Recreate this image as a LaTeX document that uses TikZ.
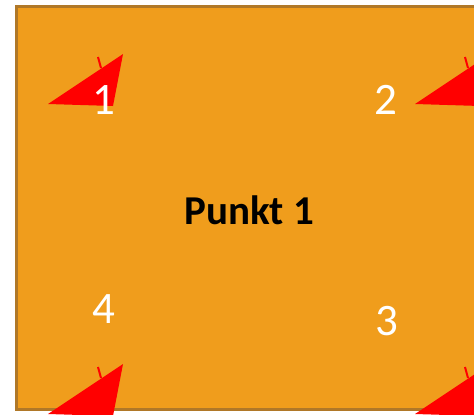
\documentclass[tikz,border=0pt]{standalone}
\usepackage{fontspec}
\setmainfont{Carlito}
\definecolor{boxfill}{RGB}{240,157,28}
\definecolor{boxedge}{RGB}{176,120,40}
\definecolor{arrred}{RGB}{255,0,0}
\tikzset{
  redtip/.style={fill=arrred, draw=none},
  redtick/.style={draw=arrred, line width=2pt},
  digit/.style={text=white, font=\fontsize{45}{45}\selectfont, inner sep=0pt},
  title/.style={text=black, font=\bfseries\fontsize{41}{41}\selectfont, inner sep=0pt}
}
\newcommand{\redarrow}[2]{%
  \begin{scope}[shift={(#1,#2)}]
    \fill[redtip] (48,104) -- (123,54) -- (113,106) -- (48,104) -- cycle;
    \draw[redtick] (98,57) -- (101,68);
  \end{scope}}
\begin{document}
\begin{tikzpicture}[x=1pt,y=-1pt]
\useasboundingbox (0,0) rectangle (474,415);
\clip (0,0) rectangle (474,415);
\fill[white] (0,0) rectangle (474,415);
\node[draw=boxedge, fill=boxfill, line width=2.5pt, minimum width=470pt, minimum height=403pt, anchor=north west, inner sep=0pt] (box) at (15,5) {};
\redarrow{0}{0}
\redarrow{367}{0}
\redarrow{0}{310}
\redarrow{367}{310}
\node[digit] (d1) at (104,100) {1};
\node[digit] (d2) at (386,100) {2};
\node[digit] (d3) at (387,321) {3};
\node[digit] (d4) at (104,309) {4};
\node[title] (t) at (249,210) {Punkt 1};
\end{tikzpicture}
\end{document}
